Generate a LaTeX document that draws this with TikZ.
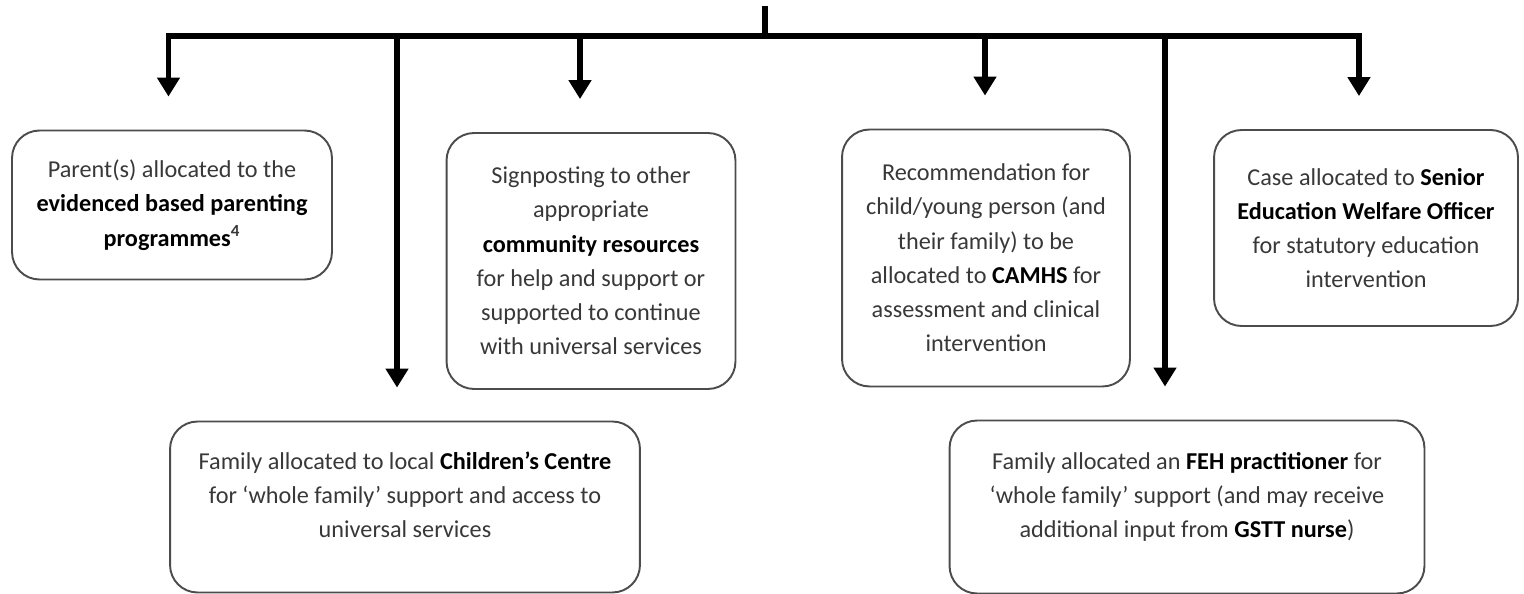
\documentclass[tikz,border=0pt]{standalone}
\usepackage{fontspec}
\setmainfont{Carlito}
\usetikzlibrary{positioning,arrows.meta}
\newcommand{\kw}[1]{\textbf{\color{black}#1}}

\begin{document}
\begin{tikzpicture}[
     % define styles
     x=0.02cm, y=-0.02cm,
     box/.style={
         draw=black!70,
         line width=1.1pt,
         rounded corners=0.55cm,
         align=center,
         text=black!78,
         font=\fontsize{13.8}{19.5}\selectfont,
         inner sep=0pt
     },
     bus/.style={
         line width=3.2pt
     },
     flow/.style={
         bus,
         -{Triangle[width=0.44cm,length=0.38cm]},
         shorten >=0.66cm
     }
]
\useasboundingbox (0,0) rectangle (1524,594);

% top row of outcome boxes
\node[box, minimum width=6.4cm, minimum height=2.98cm] (parent) at (172,205)
    {Parent(s) allocated to the\\ \kw{evidenced based parenting}\\ \kw{programmes}\textsuperscript{\bfseries 4}};
\node[box, minimum width=5.78cm, minimum height=5.12cm] (sign) at (591,261)
    {Signposting to other\\ appropriate\\ \kw{community resources}\\ for help and support or\\ supported to continue\\ with universal services};
\node[box, minimum width=5.76cm, minimum height=5.14cm] (camhs) at (986,258)
    {Recommendation for\\ child/young person (and\\ their family) to be\\ allocated to \kw{CAMHS} for\\ assessment and clinical\\ intervention};
\node[box, minimum width=6.08cm, minimum height=3.92cm] (sewo) at (1366,228)
    {Case allocated to \kw{Senior}\\ \kw{Education Welfare Officer}\\ for statutory education\\ intervention};

% bottom row of outcome boxes
\node[box, minimum width=9.4cm, minimum height=3.42cm] (centre) at (405,507)
    {Family allocated to local \kw{Children’s Centre}\\ for ‘whole family’ support and access to\\ universal services\\[-0.2cm]\mbox{}};
\node[box, minimum width=9.5cm, minimum height=3.46cm] (feh) at (1187,507)
    {Family allocated an \kw{FEH practitioner} for\\ ‘whole family’ support (and may receive\\ additional input from \kw{GSTT nurse})\\[-0.2cm]\mbox{}};

% stem and bus line
\coordinate (top) at (765,6);
\coordinate (split) at (765,36);
\coordinate (b2) at (397,36);
\coordinate (b3) at (580,36);
\coordinate (b4) at (985,36);
\coordinate (b5) at (1165,36);
\draw[bus] (top) -- (split);

% arrows down to each box
\draw[flow] (split) -| ([xshift=-2]parent.north);
\draw[flow] (split) -| ([xshift=-4]sewo.north);
\draw[flow] (b2) -- (b2 |- centre.north);
\draw[flow] (b3) -- (b3 |- sign.north);
\draw[flow] (b4) -- (b4 |- camhs.north);
\draw[flow] (b5) -- (b5 |- feh.north);
\end{tikzpicture}
\end{document}
